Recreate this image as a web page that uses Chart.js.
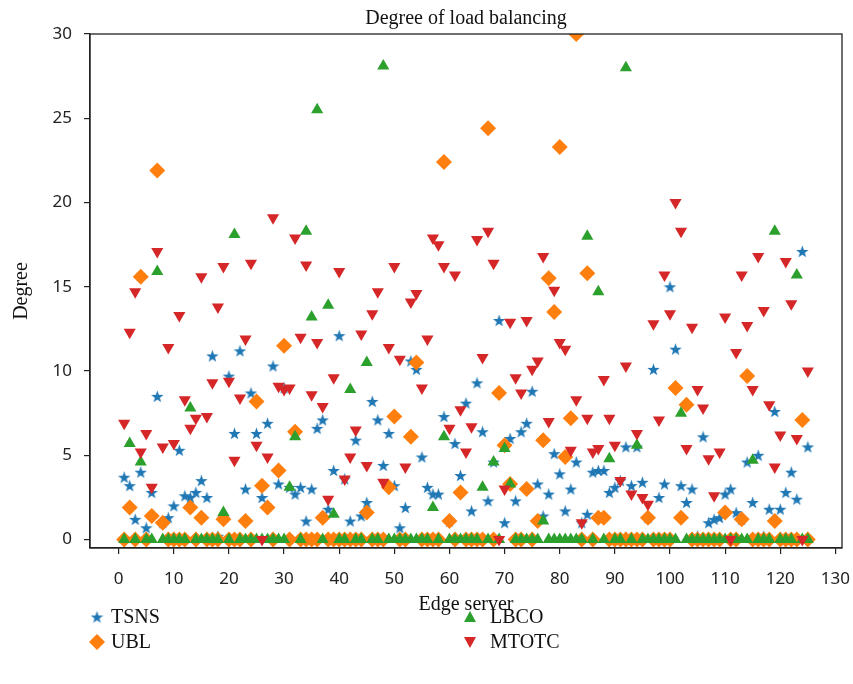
<!DOCTYPE html>
<html>
<head>
<meta charset="utf-8">
<title>Degree of load balancing</title>
<script src="https://cdn.jsdelivr.net/npm/chart.js@4.4.1/dist/chart.umd.min.js"></script>
<style>
  html, body { margin: 0; padding: 0; background: #fff; }
</style>
</head>
<body>
<canvas id="grafico" width="853" height="684"></canvas>
<script>
/* Datos: un valor por servidor (1..125) */
var tsns = [
  3.7, 3.2, 1.2, 4.0, 0.7, 2.8, 8.5, 1.0, 1.3, 2.0,
  5.3, 2.6, 2.5, 2.8, 3.5, 2.5, 10.9, 0.2, 1.3, 9.7,
  6.3, 11.2, 3.0, 8.7, 6.3, 2.5, 6.9, 10.3, 3.3, 9.0,
  3.1, 2.7, 3.1, 1.1, 3.0, 6.6, 7.1, 1.8, 4.1, 12.1,
  3.6, 1.1, 5.9, 1.4, 2.2, 8.2, 7.1, 4.4, 6.3, 3.2,
  0.7, 1.9, 10.6, 10.1, 4.9, 3.1, 2.7, 2.7, 7.3, 1.1,
  5.7, 3.8, 8.1, 1.7, 9.3, 6.4, 2.3, 4.6, 13.0, 1.0,
  6.0, 2.3, 6.4, 6.9, 8.8, 3.3, 1.4, 2.7, 5.1, 3.9,
  1.7, 3.0, 4.6, 1.0, 1.5, 4.0, 4.1, 4.1, 2.8, 3.1,
  3.5, 5.5, 3.2, 5.5, 3.4, 1.3, 10.1, 2.5, 3.3, 15.0,
  11.3, 3.2, 2.2, 3.0, 0.2, 6.1, 1.0, 1.2, 1.3, 2.7,
  3.0, 1.6, 1.2, 4.6, 2.2, 5.0, 0.2, 1.8, 7.6, 1.8,
  2.8, 4.0, 2.4, 17.1, 5.5
];
var ubl = [
  0, 1.9, 0, 15.6, 0, 1.4, 21.9, 1.0, 0, 0,
  0, 0, 1.9, 0, 1.3, 0, 0, 0, 1.2, 0,
  0, 0, 1.1, 0, 8.2, 3.2, 1.9, 0, 4.1, 11.5,
  0, 6.4, 0, 0, 0, 0, 1.3, 0, 0, 0,
  0, 0, 0, 0, 1.6, 0, 0, 0, 3.1, 7.3,
  0, 0, 6.1, 10.5, 0, 0, 0, 0, 22.4, 1.1,
  0, 2.8, 0, 0, 0, 0, 24.4, 0, 8.7, 5.6,
  3.3, 0, 0, 3.0, 0, 1.1, 5.9, 15.5, 13.5, 23.3,
  4.9, 7.2, 30.0, 0, 15.8, 0, 1.3, 1.3, 0, 0,
  0, 0, 0, 0, 0, 1.3, 0, 0, 0, 0,
  9.0, 1.3, 8.0, 0, 0, 0, 0, 0, 0, 1.6,
  0, 0, 1.2, 9.7, 0, 0, 0, 0, 1.1, 0,
  0, 0, 0, 7.1, 0
];
var lbco = [
  0, 5.7, 0, 4.6, 0, 0, 15.9, 0, 0, 0,
  0, 0, 7.8, 0, 0, 0, 0, 0, 1.6, 0,
  18.1, 0, 0, 0, 0, 0, 0, 0, 0, 0,
  3.1, 6.1, 0, 18.3, 13.2, 25.5, 0, 13.9, 1.5, 0,
  0, 8.9, 0, 0, 10.5, 0, 0, 28.1, 0, 0,
  0, 0, 0, 0, 0, 0, 1.9, 0, 6.1, 0,
  0, 0, 0, 0, 0, 3.1, 0, 4.6, 0, 5.4,
  3.3, 0, 0, 0, 0, 0, 1.1, 0, 0, 0,
  0, 0, 0, 0, 18.0, 0, 14.7, 0, 4.8, 0,
  0, 28.0, 0, 5.6, 0, 0, 0, 0, 0, 0,
  0, 7.5, 0, 0, 0, 0, 0, 0, 0, 0,
  0, 0, 0, 0, 4.7, 0, 0, 0, 18.3, 0,
  0, 0, 15.7, 0, 0
];
var mtotc = [
  6.9, 12.3, 14.7, 5.2, 6.3, 3.1, 17.1, 5.5, 11.4, 5.7,
  13.3, 8.3, 6.6, 7.2, 15.6, 7.3, 9.3, 13.8, 16.2, 9.4,
  4.7, 8.4, 11.9, 16.4, 5.6, 0, 4.9, 19.1, 9.1, 8.9,
  9.0, 17.9, 12.0, 16.3, 8.6, 11.7, 7.9, 2.4, 9.6, 15.9,
  3.6, 4.9, 6.5, 12.2, 4.4, 13.4, 14.7, 3.4, 11.4, 16.2,
  10.7, 4.3, 14.1, 14.6, 9.0, 11.9, 17.9, 17.5, 16.2, 6.6,
  15.7, 7.7, 5.2, 6.7, 17.8, 10.8, 18.3, 16.4, 0, 3.0,
  12.9, 9.6, 8.7, 13.0, 10.1, 10.6, 16.8, 7.0, 14.8, 11.7,
  11.3, 5.3, 8.3, 1.0, 7.2, 5.2, 5.4, 9.5, 7.2, 5.6,
  3.5, 10.3, 2.7, 6.3, 2.5, 2.1, 12.8, 7.1, 15.7, 13.4,
  20.0, 18.3, 5.4, 12.6, 8.9, 7.8, 4.8, 2.6, 5.2, 13.2,
  0, 11.1, 15.7, 12.7, 8.9, 16.8, 13.6, 8.0, 4.3, 6.2,
  16.5, 14.0, 6.0, 0, 10.0
];
var xTicks = [0, 10, 20, 30, 40, 50, 60, 70, 80, 90, 100, 110, 120, 130];
var yTicks = [0, 5, 10, 15, 20, 25, 30];

var serif = "'Liberation Serif', 'DejaVu Serif', serif";
var sans = "'Noto Sans', 'DejaVu Sans', sans-serif";
var colores = { tsns: '#1f77b4', ubl: '#ff7f0e', lbco: '#2ca02c', mtotc: '#d62728' };

/* Estrella rellena de 5 puntas (Chart.js solo trae el asterisco) */
function crearEstrella(size, color) {
  var c = document.createElement('canvas');
  c.width = size; c.height = size;
  var g = c.getContext('2d');
  var R = size / 2, r = R * 0.4;
  g.beginPath();
  for (var i = 0; i < 10; i++) {
    var rad = (i % 2) ? r : R;
    var a = -Math.PI / 2 + i * Math.PI / 5;
    g.lineTo(R + rad * Math.cos(a), R + 0.6 + rad * Math.sin(a));
  }
  g.closePath();
  g.fillStyle = color;
  g.fill();
  return c;
}
var estrella = crearEstrella(13, colores.tsns);

function puntos(valores) {
  return valores.map(function(v, i) { return { x: i + 1, y: v }; });
}

/* Marco completo y leyenda en dos columnas */
var marcoLeyenda = {
  id: 'marcoLeyenda',
  afterDraw: function(chart) {
    var ctx = chart.ctx;
    var a = chart.chartArea;
    ctx.save();
    ctx.strokeStyle = '#222';
    ctx.lineWidth = 1.3;
    ctx.strokeRect(a.left, a.top, a.right - a.left, a.bottom - a.top);

    var items = [
      { label: 'TSNS', x: 97, tx: 111, y: 617, tipo: 'star' },
      { label: 'UBL', x: 97, tx: 111, y: 642, tipo: 'diamond', color: colores.ubl },
      { label: 'LBCO', x: 470, tx: 490, y: 617, tipo: 'up', color: colores.lbco },
      { label: 'MTOTC', x: 470, tx: 490, y: 642, tipo: 'down', color: colores.mtotc }
    ];
    ctx.font = '20px ' + serif;
    ctx.textBaseline = 'middle';
    ctx.textAlign = 'left';
    items.forEach(function(it) {
      if (it.tipo === 'star') {
        ctx.drawImage(estrella, it.x - 6.5, it.y - 6.5);
      } else {
        ctx.fillStyle = it.color;
        ctx.beginPath();
        if (it.tipo === 'diamond') {
          ctx.moveTo(it.x, it.y - 8); ctx.lineTo(it.x + 8, it.y);
          ctx.lineTo(it.x, it.y + 8); ctx.lineTo(it.x - 8, it.y);
        } else if (it.tipo === 'up') {
          ctx.moveTo(it.x, it.y - 6); ctx.lineTo(it.x + 6, it.y + 5); ctx.lineTo(it.x - 6, it.y + 5);
        } else {
          ctx.moveTo(it.x, it.y + 6); ctx.lineTo(it.x + 6, it.y - 5); ctx.lineTo(it.x - 6, it.y - 5);
        }
        ctx.closePath();
        ctx.fill();
      }
      ctx.fillStyle = '#111';
      ctx.fillText(it.label, it.tx, it.y + 1);
    });
    ctx.restore();
  }
};

var ctx = document.getElementById('grafico');
var grafico = new Chart(ctx, {
  type: 'scatter',
  data: {
    datasets: [
      { label: 'TSNS', data: puntos(tsns), pointStyle: estrella, pointRadius: 6, borderWidth: 0, backgroundColor: colores.tsns, order: 4 },
      { label: 'UBL', data: puntos(ubl), pointStyle: 'rectRot', pointRadius: 8, borderWidth: 0, backgroundColor: colores.ubl, order: 3 },
      { label: 'LBCO', data: puntos(lbco), pointStyle: 'triangle', pointRadius: 7, borderWidth: 0, backgroundColor: colores.lbco, order: 2 },
      { label: 'MTOTC', data: puntos(mtotc), pointStyle: 'triangle', rotation: 180, pointRadius: 7, borderWidth: 0, backgroundColor: colores.mtotc, order: 1 }
    ]
  },
  options: {
    responsive: false,
    animation: false,
    events: [],
    layout: { padding: { left: 0, right: 11, top: 0, bottom: 64 } },
    plugins: {
      legend: { display: false },
      tooltip: { enabled: false },
      title: {
        display: true,
        fullSize: false,
        text: 'Degree of load balancing',
        color: '#111',
        font: { family: serif, size: 20, weight: 'normal' },
        padding: { top: 7, bottom: 3 }
      }
    },
    scales: {
      x: {
        type: 'linear',
        min: -5.2,
        max: 131.2,
        afterBuildTicks: function(s) { s.ticks = xTicks.map(function(v) { return { value: v }; }); },
        afterFit: function(s) { s.height = 72; s.paddingLeft = 0; s.paddingRight = 0; },
        ticks: { color: '#222', font: { family: sans, size: 17 }, padding: 15, maxRotation: 0, autoSkip: false },
        grid: { drawOnChartArea: false, tickLength: 6, color: '#222', lineWidth: 1.2 },
        border: { color: '#222', width: 1.3 },
        title: { display: true, text: 'Edge server', color: '#111', font: { family: serif, size: 20 }, padding: { top: 0, bottom: 3 } }
      },
      y: {
        type: 'linear',
        min: -0.5,
        max: 30,
        afterBuildTicks: function(s) { s.ticks = yTicks.map(function(v) { return { value: v }; }); },
        afterFit: function(s) { s.width = 90; s.paddingTop = 0; s.paddingBottom = 0; },
        ticks: { color: '#222', font: { family: sans, size: 17 }, padding: 12 },
        grid: { drawOnChartArea: false, tickLength: 6, color: '#222', lineWidth: 1.2 },
        border: { color: '#222', width: 1.3 },
        title: { display: true, text: 'Degree', color: '#111', font: { family: serif, size: 20 }, padding: { top: 10, bottom: 0 } }
      }
    }
  },
  plugins: [marcoLeyenda]
});
</script>
</body>
</html>
